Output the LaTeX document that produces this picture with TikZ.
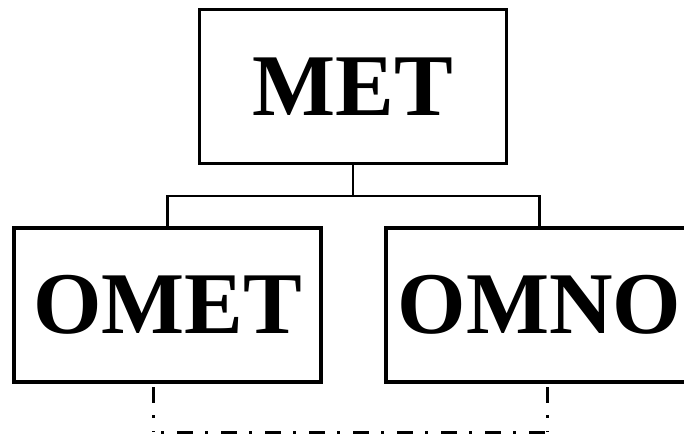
\documentclass[tikz,border=0pt]{standalone}
\usepackage{fontspec}
\setmainfont{Liberation Serif}
\begin{document}
\begin{tikzpicture}[x=1pt,y=-1pt,
  box/.style={draw=black,line width=3.5pt,minimum width=307pt,minimum height=154pt,
    inner sep=0pt,font=\fontsize{88}{88}\selectfont\bfseries},
  conn/.style={draw=black,line width=2.2pt},
  dashdot/.style={draw=black,line width=3pt,dash pattern=on 16pt off 12pt on 3pt off 13pt}]
\useasboundingbox (0,0) rectangle (684,433);
\node[box] (met) at (353,86.5) {MET};
\node[box] (omet) at (167.5,305) {OMET};
\node[box] (omno) at (539.5,305) {OMNO};
\coordinate (bus) at (353,196);
\draw[conn] (met.south) -- (bus);
\draw[conn] (omet.north) |- (bus) -| (omno.north);
\coordinate (la) at (153,384);
\coordinate (lb) at (153,432);
\coordinate (ra) at (547,384);
\coordinate (rb) at (547,432);
\draw[dashdot,dash phase=41pt] (la) -- (lb);
\draw[dashdot,dash phase=20pt] (lb) -- (rb);
\draw[dashdot,dash phase=41pt] (ra) -- (rb);
\end{tikzpicture}
\end{document}
